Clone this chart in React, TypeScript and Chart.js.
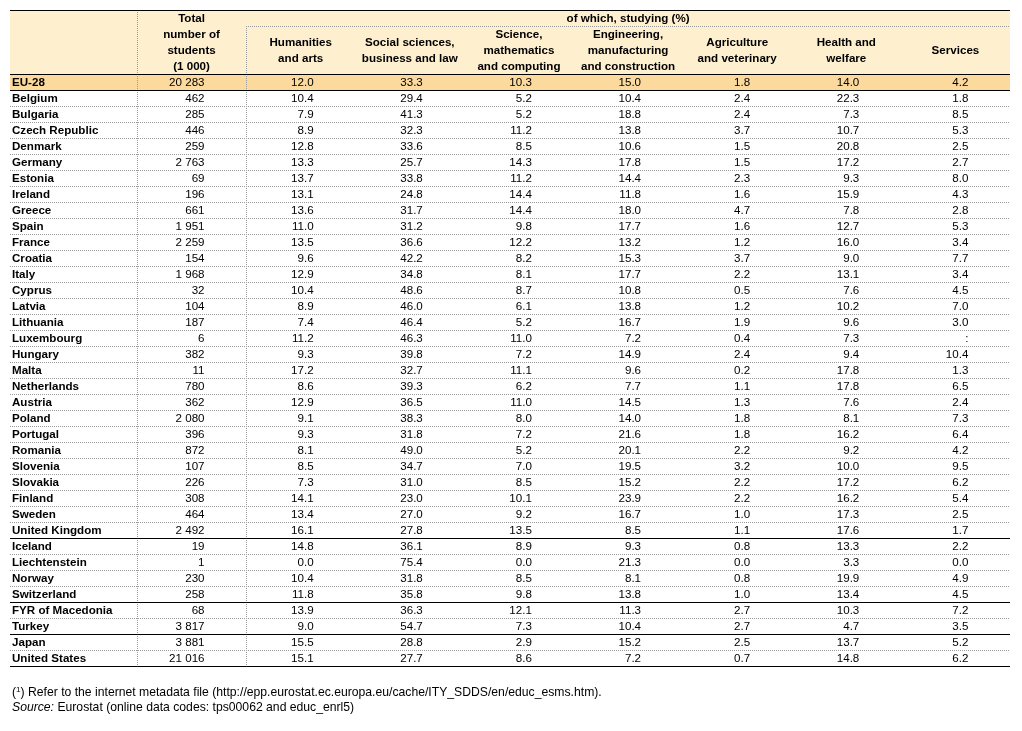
import React, { useEffect, useRef } from 'react';
import { Chart, registerables } from 'chart.js';

Chart.register(...registerables);

// ---------- DATA ----------
const countries = [
  'EU-28', 'Belgium', 'Bulgaria', 'Czech Republic', 'Denmark', 'Germany', 'Estonia', 'Ireland',
  'Greece', 'Spain', 'France', 'Croatia', 'Italy', 'Cyprus', 'Latvia', 'Lithuania', 'Luxembourg',
  'Hungary', 'Malta', 'Netherlands', 'Austria', 'Poland', 'Portugal', 'Romania', 'Slovenia',
  'Slovakia', 'Finland', 'Sweden', 'United Kingdom', 'Iceland', 'Liechtenstein', 'Norway',
  'Switzerland', 'FYR of Macedonia', 'Turkey', 'Japan', 'United States',
];
const totalStudents = [
  20283, 462, 285, 446, 259, 2763, 69, 196, 661, 1951, 2259, 154, 1968, 32, 104, 187, 6,
  382, 11, 780, 362, 2080, 396, 872, 107, 226, 308, 464, 2492, 19, 1, 230, 258, 68, 3817, 3881, 21016,
];
const humanities = [
  12.0, 10.4, 7.9, 8.9, 12.8, 13.3, 13.7, 13.1, 13.6, 11.0, 13.5, 9.6, 12.9, 10.4, 8.9, 7.4, 11.2,
  9.3, 17.2, 8.6, 12.9, 9.1, 9.3, 8.1, 8.5, 7.3, 14.1, 13.4, 16.1, 14.8, 0.0, 10.4, 11.8, 13.9, 9.0, 15.5, 15.1,
];
const socialSciences = [
  33.3, 29.4, 41.3, 32.3, 33.6, 25.7, 33.8, 24.8, 31.7, 31.2, 36.6, 42.2, 34.8, 48.6, 46.0, 46.4, 46.3,
  39.8, 32.7, 39.3, 36.5, 38.3, 31.8, 49.0, 34.7, 31.0, 23.0, 27.0, 27.8, 36.1, 75.4, 31.8, 35.8, 36.3, 54.7, 28.8, 27.7,
];
const science = [
  10.3, 5.2, 5.2, 11.2, 8.5, 14.3, 11.2, 14.4, 14.4, 9.8, 12.2, 8.2, 8.1, 8.7, 6.1, 5.2, 11.0,
  7.2, 11.1, 6.2, 11.0, 8.0, 7.2, 5.2, 7.0, 8.5, 10.1, 9.2, 13.5, 8.9, 0.0, 8.5, 9.8, 12.1, 7.3, 2.9, 8.6,
];
const engineering = [
  15.0, 10.4, 18.8, 13.8, 10.6, 17.8, 14.4, 11.8, 18.0, 17.7, 13.2, 15.3, 17.7, 10.8, 13.8, 16.7, 7.2,
  14.9, 9.6, 7.7, 14.5, 14.0, 21.6, 20.1, 19.5, 15.2, 23.9, 16.7, 8.5, 9.3, 21.3, 8.1, 13.8, 11.3, 10.4, 15.2, 7.2,
];
const agriculture = [
  1.8, 2.4, 2.4, 3.7, 1.5, 1.5, 2.3, 1.6, 4.7, 1.6, 1.2, 3.7, 2.2, 0.5, 1.2, 1.9, 0.4,
  2.4, 0.2, 1.1, 1.3, 1.8, 1.8, 2.2, 3.2, 2.2, 2.2, 1.0, 1.1, 0.8, 0.0, 0.8, 1.0, 2.7, 2.7, 2.5, 0.7,
];
const health = [
  14.0, 22.3, 7.3, 10.7, 20.8, 17.2, 9.3, 15.9, 7.8, 12.7, 16.0, 9.0, 13.1, 7.6, 10.2, 9.6, 7.3,
  9.4, 17.8, 17.8, 7.6, 8.1, 16.2, 9.2, 10.0, 17.2, 16.2, 17.3, 17.6, 13.3, 3.3, 19.9, 13.4, 10.3, 4.7, 13.7, 14.8,
];
const services = [
  4.2, 1.8, 8.5, 5.3, 2.5, 2.7, 8.0, 4.3, 2.8, 5.3, 3.4, 7.7, 3.4, 4.5, 7.0, 3.0, null,
  10.4, 1.3, 6.5, 2.4, 7.3, 6.4, 4.2, 9.5, 6.2, 5.4, 2.5, 1.7, 2.2, 0.0, 4.9, 4.5, 7.2, 3.5, 5.2, 6.2,
];
const columnHeaders = [
  ['Total', 'number of', 'students', '(1 000)'],
  ['Humanities', 'and arts'],
  ['Social sciences,', 'business and law'],
  ['Science,', 'mathematics', 'and computing'],
  ['Engineering,', 'manufacturing', 'and construction'],
  ['Agriculture', 'and veterinary'],
  ['Health and', 'welfare'],
  ['Services'],
];
const spanHeader = 'of which, studying (%)';
// index of the last row of each group (a solid rule follows it)
const groupEnds = [0, 28, 32, 34, 36];
const footnote = ') Refer to the internet metadata file (http://epp.eurostat.ec.europa.eu/cache/ITY_SDDS/en/educ_esms.htm).';
const sourceLabel = 'Source:';
const sourceText = ' Eurostat (online data codes: tps00062 and educ_enrl5)';

// ---------- STYLE ----------
const FONT = '"Liberation Sans", Arial, sans-serif';
const HEADER_BG = '#FEEFCF';
const HIGHLIGHT_BG = '#FCD99C';
const DOT = '#9a9a9a';
const TY = 1; // text vertical nudge (px)

const fmtTotal = (v: number) => String(v).replace(/\B(?=(\d{3})+(?!\d))/g, ' ');
const fmtPct = (v: number | null) => (v === null ? ':' : v.toFixed(1));

const valueColumns = [totalStudents, humanities, socialSciences, science, engineering, agriculture, health, services];

const tablePlugin = {
  id: 'tablePlugin',
  beforeDatasetsDraw(chart: any) {
    const { ctx, chartArea: a, scales } = chart;
    const x = scales.x;
    const y = scales.y;
    const px = (v: number) => Math.round(x.getPixelForValue(v));
    const py = (v: number) => Math.round(y.getPixelForValue(v));
    const L = a.left, R = a.right;
    const nRows = countries.length;
    ctx.save();
    ctx.fillStyle = HEADER_BG;
    ctx.fillRect(L, py(-4), R - L, py(0) - py(-4));
    ctx.fillStyle = HIGHLIGHT_BG;
    ctx.fillRect(L, py(0), R - L, py(1) - py(0));

    ctx.strokeStyle = DOT;
    ctx.lineWidth = 1;
    ctx.setLineDash([1, 1]);
    ctx.beginPath();
    ctx.moveTo(px(1), py(-3) + 0.5);
    ctx.lineTo(R, py(-3) + 0.5);
    for (let r = 1; r < nRows; r++) {
      if (groupEnds.includes(r - 1)) continue;
      ctx.moveTo(L, py(r) + 0.5);
      ctx.lineTo(R, py(r) + 0.5);
    }
    ctx.moveTo(px(0) + 0.5, py(-4));
    ctx.lineTo(px(0) + 0.5, py(nRows));
    ctx.moveTo(px(1) + 0.5, py(-3));
    ctx.lineTo(px(1) + 0.5, py(nRows));
    ctx.stroke();

    ctx.setLineDash([]);
    ctx.strokeStyle = '#000';
    ctx.beginPath();
    ctx.moveTo(L, py(-4) + 0.5);
    ctx.lineTo(R, py(-4) + 0.5);
    ctx.moveTo(L, py(0) + 0.5);
    ctx.lineTo(R, py(0) + 0.5);
    groupEnds.forEach((g) => {
      ctx.moveTo(L, py(g + 1) + 0.5);
      ctx.lineTo(R, py(g + 1) + 0.5);
    });
    ctx.stroke();
    ctx.restore();
  },
  afterDatasetsDraw(chart: any) {
    const { ctx, chartArea: a, scales } = chart;
    const x = scales.x;
    const y = scales.y;
    ctx.save();
    ctx.fillStyle = '#000';
    ctx.textBaseline = 'middle';

    ctx.font = `bold 11.6px ${FONT}`;
    ctx.textAlign = 'center';
    ctx.fillText(spanHeader, (x.getPixelForValue(1) + x.getPixelForValue(8)) / 2, y.getPixelForValue(-3.5) + TY);
    columnHeaders.forEach((lines, c) => {
      const top = c === 0 ? -4 : -3;
      const mid = top / 2;
      const start = mid - (lines.length - 1) / 2;
      lines.forEach((ln, i) => {
        ctx.fillText(ln, x.getPixelForValue(c + 0.5), y.getPixelForValue(start + i) + TY);
      });
    });

    ctx.textAlign = 'left';
    countries.forEach((name, r) => {
      ctx.fillText(name, a.left + 2, y.getPixelForValue(r + 0.5) + TY);
    });

    ctx.font = `11.6px ${FONT}`;
    ctx.textAlign = 'right';
    chart.data.datasets.forEach((ds: any, di: number) => {
      const meta = chart.getDatasetMeta(di);
      meta.data.forEach((el: any, i: number) => {
        ctx.fillText(ds.data[i].label, el.x + 13, el.y + TY);
      });
    });

    ctx.textAlign = 'left';
    let fx = a.left + 2;
    const fy1 = y.getPixelForValue(38.6) + 1;
    const fy2 = y.getPixelForValue(39.5) + 1.5;
    ctx.font = `12.2px ${FONT}`;
    ctx.fillText('(', fx, fy1);
    fx += ctx.measureText('(').width;
    ctx.font = `8px ${FONT}`;
    ctx.fillText('1', fx, fy1 - 3);
    fx += ctx.measureText('1').width;
    ctx.font = `12.2px ${FONT}`;
    ctx.fillText(footnote, fx, fy1);
    ctx.font = `italic 12.2px ${FONT}`;
    ctx.fillText(sourceLabel, a.left + 2, fy2);
    const sw = ctx.measureText(sourceLabel).width;
    ctx.font = `12.2px ${FONT}`;
    ctx.fillText(sourceText, a.left + 2 + sw, fy2);
    ctx.restore();
  },
};

export default function App() {
  const ref = useRef<HTMLCanvasElement>(null);
  useEffect(() => {
    if (!ref.current) return;
    const datasets = valueColumns.map((col, c) => ({
      label: columnHeaders[c].join(' '),
      data: (col as (number | null)[]).map((v, r) => ({
        x: c + 0.5,
        y: r + 0.5,
        label: c === 0 ? fmtTotal(v as number) : fmtPct(v),
      })),
      pointRadius: 0,
      pointHoverRadius: 0,
      showLine: false,
    }));
    const chart = new Chart(ref.current, {
      type: 'scatter',
      data: { datasets },
      options: {
        animation: false,
        responsive: false,
        events: [],
        layout: { padding: { left: 10, right: 12, top: 10, bottom: 65 } },
        plugins: { legend: { display: false }, tooltip: { enabled: false }, title: { display: false } },
        scales: {
          x: { type: 'linear', display: false, min: -127 / 109.14, max: 8 },
          y: { type: 'linear', display: false, reverse: true, min: -4, max: 37 },
        },
      },
      plugins: [tablePlugin],
    } as any);
    return () => chart.destroy();
  }, []);
  return (
    <div style={{ position: 'absolute', left: 0, top: 0, width: 1022, height: 731, background: '#fff' }}>
      <canvas ref={ref} width={1022} height={731} style={{ display: 'block' }} />
    </div>
  );
}
